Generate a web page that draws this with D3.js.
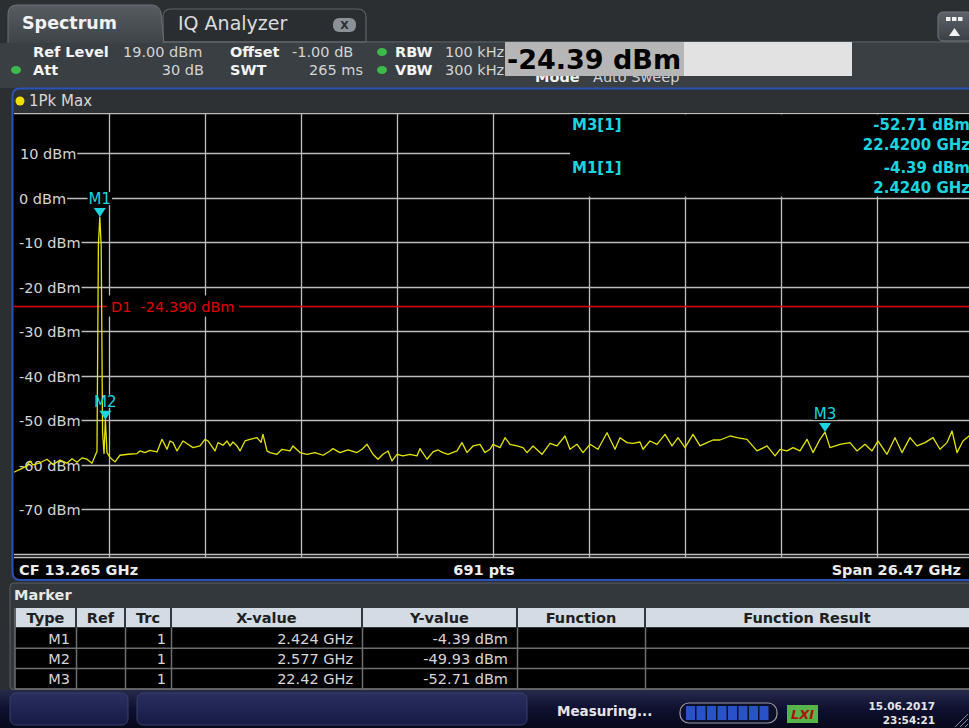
<!DOCTYPE html>
<html><head><meta charset="utf-8">
<script src="https://cdn.jsdelivr.net/npm/d3@7"></script>
<style>
html,body{margin:0;padding:0;background:#2b2f32;overflow:hidden;}
svg{display:block;font-family:"DejaVu Sans",Verdana,sans-serif;}
</style></head><body>
<svg id="c" width="969" height="728"></svg>
<script>
// ---------- data ----------
const startGHz = 0.03, stopGHz = 26.5;
const refLevel = 19, bottomLevel = -81;
const yTickValues = [10, 0, -10, -20, -30, -40, -50, -60, -70];
const yGridValues = [10, 0, -10, -20, -30, -40, -50, -60, -70, -80];
const displayLineLevel = -24.39;
const displayLineLabel = "D1  -24.390 dBm";
// trace: [frequency GHz, level dBm]
const trace = [
[0.03,-61.8],[0.223,-61.1],[0.416,-60.3],[0.499,-59.2],[0.581,-60.1],[0.774,-59.6],[0.967,-58.8],[1.133,-60.0],
[1.326,-59.0],[1.519,-59.7],[1.657,-58.7],[1.795,-59.5],[1.933,-58.5],[2.070,-58.8],[2.208,-59.7],[2.291,-58.1],
[2.346,-57.0],[2.385,-10.5],[2.424,-4.39],[2.462,-11.0],[2.50,-52.8],[2.54,-57.5],[2.577,-49.93],[2.622,-57.3],
[2.705,-58.4],[2.842,-59.4],[2.980,-57.91],[3.201,-57.69],[3.449,-57.54],[3.532,-56.94],[3.670,-57.31],[3.807,-56.8],
[4.001,-57.16],[4.138,-54.33],[4.276,-56.57],[4.359,-54.7],[4.442,-55.07],[4.552,-56.94],[4.717,-54.7],[4.855,-55.45],
[4.993,-56.19],[5.186,-55.82],[5.324,-54.33],[5.407,-54.7],[5.600,-56.94],[5.682,-55.07],[5.820,-55.67],[5.931,-54.7],
[6.013,-55.82],[6.096,-54.93],[6.206,-55.82],[6.289,-56.94],[6.427,-54.7],[6.565,-54.33],[6.758,-53.96],[6.868,-55.0],
[6.923,-53.2],[7.034,-56.94],[7.116,-57.31],[7.309,-57.69],[7.447,-56.57],[7.668,-56.94],[7.750,-55.82],[7.943,-57.31],
[8.136,-57.69],[8.357,-57.31],[8.578,-57.91],[8.771,-56.94],[8.853,-56.42],[9.046,-57.31],[9.267,-56.72],[9.515,-57.31],
[9.653,-56.57],[9.791,-55.45],[9.956,-57.69],[10.094,-58.81],[10.232,-57.69],[10.370,-56.94],[10.480,-59.18],[10.618,-57.69],
[10.783,-58.06],[10.976,-57.69],[11.169,-58.06],[11.252,-56.42],[11.445,-58.81],[11.611,-57.16],[11.748,-56.72],[11.886,-57.31],
[12.024,-57.69],[12.272,-56.94],[12.410,-55.07],[12.548,-57.31],[12.714,-55.82],[12.907,-55.45],[13.044,-57.31],[13.182,-56.57],
[13.265,-55.45],[13.458,-56.19],[13.596,-53.96],[13.734,-55.45],[13.927,-55.82],[14.092,-56.19],[14.203,-57.31],[14.368,-55.82],
[14.616,-57.69],[14.837,-55.22],[15.030,-55.82],[15.250,-53.58],[15.388,-56.57],[15.581,-55.45],[15.747,-57.31],[15.940,-55.45],
[16.160,-56.57],[16.408,-52.84],[16.629,-56.57],[16.767,-53.96],[16.960,-55.07],[17.125,-55.22],[17.318,-54.93],[17.401,-56.57],
[17.594,-54.7],[17.787,-55.45],[18.008,-53.21],[18.201,-55.82],[18.366,-53.96],[18.559,-56.19],[18.780,-53.21],[18.973,-55.82],
[19.166,-55.07],[19.331,-54.48],[19.524,-54.48],[19.800,-53.58],[19.993,-53.96],[20.268,-54.33],[20.544,-56.94],[20.820,-55.82],
[21.041,-58.06],[21.178,-56.57],[21.371,-56.94],[21.537,-56.19],[21.730,-56.94],[21.923,-54.33],[22.088,-57.31],[22.281,-54.33],
[22.42,-52.71],[22.557,-56.19],[22.833,-55.45],[23.108,-55.07],[23.301,-56.94],[23.522,-55.45],[23.715,-56.94],[23.880,-54.7],
[24.128,-57.69],[24.349,-53.96],[24.542,-57.31],[24.763,-53.96],[24.956,-55.82],[25.176,-55.07],[25.397,-53.96],[25.590,-56.57],
[25.783,-55.07],[25.921,-52.46],[26.059,-57.31],[26.224,-54.7],[26.390,-53.58],[26.50,-54.5]
];
const markerNames = ["M1", "M2", "M3"];
const markerFreqs = [2.424, 2.577, 22.42];
const markerLevels = [-4.39, -49.93, -52.71];
const tableColumns = ["Type", "Ref", "Trc", "X-value", "Y-value", "Function", "Function Result"];
const tableRows = [
  ["M1", "", "1", "2.424 GHz", "-4.39 dBm", "", ""],
  ["M2", "", "1", "2.577 GHz", "-49.93 dBm", "", ""],
  ["M3", "", "1", "22.42 GHz", "-52.71 dBm", "", ""]
];
const infoLines = [["M3[1]", "-52.71 dBm", "22.4200 GHz"], ["M1[1]", "-4.39 dBm", "2.4240 GHz"]];

// ---------- drawing ----------
const svg = d3.select("#c");
const defs = svg.append("defs");
function grad(id, stops, vertical = true) {
  const g = defs.append("linearGradient").attr("id", id)
    .attr("x1", 0).attr("y1", 0).attr("x2", vertical ? 0 : 1).attr("y2", vertical ? 1 : 0);
  stops.forEach((c, i) => g.append("stop").attr("offset", i / (stops.length - 1)).attr("stop-color", c));
}
grad("tabG", ["#565c61", "#3e4347"]);
grad("statusG", ["#262a4a", "#0e1030", "#07081a"]);
grad("btnG", ["#2a2f60", "#161a44"]);
grad("btnTop", ["#5c6268", "#3a4045"]);

// page background
svg.append("rect").attr("width", 969).attr("height", 728).attr("fill", "#2b2f32");

// tabs
svg.append("path").attr("d", "M163,42 L163,17 Q163,9 171,9 L357,9 Q366,9 366,17 L366,42 Z")
  .attr("fill", "#2a2e31").attr("stroke", "#5e6469").attr("stroke-width", 1.2);
svg.append("line").attr("x1", 160).attr("x2", 969).attr("y1", 42).attr("y2", 42).attr("stroke", "#6b7176").attr("stroke-width", 1.2);
svg.append("path").attr("d", "M8,44 L8,14 Q8,5 17,5 L152,5 Q159,5 161,13 L164,44 Z")
  .attr("fill", "url(#tabG)").attr("stroke", "#6b7176").attr("stroke-width", 1);
svg.append("text").attr("x", 22).attr("y", 29).attr("fill", "#f2f2f2").attr("font-size", 17.5).attr("font-weight", "bold").text("Spectrum");
svg.append("text").attr("x", 178).attr("y", 30).attr("fill", "#dcdcdc").attr("font-size", 19).text("IQ Analyzer");
svg.append("rect").attr("x", 333).attr("y", 18).attr("width", 23).attr("height", 14).attr("rx", 6).attr("fill", "#8b9196");
svg.append("text").attr("x", 344.5).attr("y", 29).attr("text-anchor", "middle").attr("fill", "#2a2e31").attr("font-size", 11).attr("font-weight", "bold").text("X");
// top-right button
svg.append("rect").attr("x", 938).attr("y", 12).attr("width", 34).attr("height", 29).attr("rx", 5).attr("fill", "url(#btnTop)").attr("stroke", "#73797e");
[946, 952, 958].forEach(xx => svg.append("rect").attr("x", xx).attr("y", 17).attr("width", 4.5).attr("height", 4).attr("fill", "#f0f0f0"));
svg.append("path").attr("d", "M949,36 L954.5,28 L960,36 Z").attr("fill", "#f0f0f0");

// info panel
svg.append("rect").attr("x", 0).attr("y", 43).attr("width", 969).attr("height", 45).attr("fill", "#3a3f43");
const info = svg.append("g").attr("font-size", 14.5);
function t(x, y, s, opt = {}) {
  return info.append("text").attr("x", x).attr("y", y).attr("fill", opt.fill || "#d4d4d4")
    .attr("font-weight", opt.bold ? "bold" : null).attr("text-anchor", opt.anchor || "start").text(s);
}
t(33, 57, "Ref Level", {bold: true, fill: "#f4f4f4"}); t(123, 57, "19.00 dBm");
t(230, 57, "Offset", {bold: true, fill: "#f4f4f4"}); t(292, 57, "-1.00 dB");
t(395, 57, "RBW", {bold: true, fill: "#f4f4f4"}); t(445, 57, "100 kHz");
t(33, 75, "Att", {bold: true, fill: "#f4f4f4"}); t(204, 75, "30 dB", {anchor: "end"});
t(230, 75, "SWT", {bold: true, fill: "#f4f4f4"}); t(363, 75, "265 ms", {anchor: "end"});
t(395, 75, "VBW", {bold: true, fill: "#f4f4f4"}); t(445, 75, "300 kHz");
t(535, 82, "Mode", {bold: true, fill: "#f4f4f4"}); t(593, 82, "Auto Sweep");
[[382, 52], [16, 70], [382, 70]].forEach(p => svg.append("ellipse").attr("cx", p[0]).attr("cy", p[1]).attr("rx", 5).attr("ry", 4).attr("fill", "#3dbb4a"));
// overlay value box
svg.append("rect").attr("x", 505).attr("y", 42).attr("width", 347).attr("height", 34).attr("fill", "#e2e2e2");
svg.append("rect").attr("x", 505).attr("y", 42).attr("width", 179).attr("height", 34).attr("fill", "#b6b6b6");
svg.append("text").attr("x", 507).attr("y", 69).attr("font-size", 27).attr("font-weight", "bold").attr("fill", "#000").text("-24.39 dBm");

// trace row
svg.append("rect").attr("x", 13).attr("y", 89).attr("width", 960).attr("height", 24).attr("fill", "#2d3134");
svg.append("circle").attr("cx", 20).attr("cy", 101).attr("r", 4.5).attr("fill", "#f0e000");
svg.append("text").attr("x", 29).attr("y", 106).attr("font-size", 15).attr("fill", "#d8d8d8").text("1Pk Max");

// plot
const x = d3.scaleLinear().domain([startGHz, stopGHz]).range([13, 973]);
const y = d3.scaleLinear().domain([bottomLevel, refLevel]).range([558, 113]);
svg.append("rect").attr("x", 13).attr("y", 113).attr("width", 960).attr("height", 445).attr("fill", "#000");
defs.append("clipPath").attr("id", "plotClip").append("rect").attr("x", 14).attr("y", 113).attr("width", 960).attr("height", 445);
const plot = svg.append("g").attr("clip-path", "url(#plotClip)");
const gridCol = "#bdbdbd";
const vGrid = d3.range(1, 10).map(i => startGHz + i * (stopGHz - startGHz) / 10);
plot.selectAll(".vg").data(vGrid).join("line")
  .attr("x1", d => Math.round(x(d)) + 0.5).attr("x2", d => Math.round(x(d)) + 0.5)
  .attr("y1", 113).attr("y2", 558).attr("stroke", gridCol).attr("stroke-width", 1.3);
plot.append("line").attr("x1", 13).attr("x2", 973).attr("y1", 113.5).attr("y2", 113.5).attr("stroke", gridCol).attr("stroke-width", 1.3);
// y axis labels and horizontal grid
const yLab = plot.append("g").attr("font-size", 14.5).attr("fill", "#d4d4d4");
yGridValues.forEach(v => {
  const yy = Math.round(y(v)) + 0.5;
  let startX = 14;
  if (yTickValues.includes(v)) {
    const tx = yLab.append("text").attr("x", v === 10 ? 20 : 19).attr("y", yy + 5).text(v + " dBm");
    startX = (v === 10 ? 20 : 19) + tx.node().getComputedTextLength() + 1;
  }
  plot.append("line").attr("x1", startX).attr("x2", 973).attr("y1", yy).attr("y2", yy).attr("stroke", gridCol).attr("stroke-width", 1.3);
});
plot.append("line").attr("x1", 13).attr("x2", 973).attr("y1", 557.5).attr("y2", 557.5).attr("stroke", gridCol).attr("stroke-width", 1.3);

// marker info box (covers grid)
plot.append("rect").attr("x", 570).attr("y", 114.5).attr("width", 404).attr("height", 82).attr("fill", "#000");
const infoG = plot.append("g").attr("font-size", 15).attr("font-weight", "bold").attr("fill", "#1ad4e0");
infoLines.forEach((l, i) => {
  const b = 129.5 + i * 43;
  infoG.append("text").attr("x", 572).attr("y", b).text(l[0]);
  infoG.append("text").attr("x", 970).attr("y", b).attr("text-anchor", "end").text(l[1]);
  infoG.append("text").attr("x", 970).attr("y", b + 20).attr("text-anchor", "end").text(l[2]);
});

// display line D1
const dY = Math.round(y(displayLineLevel)) + 0.5;
plot.append("line").attr("x1", 14).attr("x2", 973).attr("y1", dY).attr("y2", dY).attr("stroke", "#e00000").attr("stroke-width", 1.3);
plot.append("rect").attr("x", 107).attr("y", dY - 11).attr("width", 132).attr("height", 21).attr("fill", "#000");
plot.append("text").attr("x", 111).attr("y", dY + 5.5).attr("font-size", 14.5).attr("fill", "#e00000").attr("xml:space", "preserve").text(displayLineLabel);

// marker label backgrounds (below trace)
const mBg = plot.append("g");
// trace
const line = d3.line().x(d => x(d[0])).y(d => y(d[1]));
plot.append("path").datum(trace).attr("d", line).attr("fill", "none").attr("stroke", "#e4e400").attr("stroke-width", 1.3).attr("stroke-linejoin", "round");

// markers
const mG = plot.append("g");
markerNames.forEach((m, i) => {
  const mx = x(markerFreqs[i]), my = y(markerLevels[i]);
  const lab = mG.append("text").attr("x", mx).attr("y", my - 13).attr("text-anchor", "middle").attr("font-size", 15).attr("fill", "#1ad4e0").text(m);
  const w = lab.node().getComputedTextLength();
  mBg.append("rect").attr("x", mx - w / 2 - 1).attr("y", my - 25).attr("width", w + 2).attr("height", 13).attr("fill", "#000");
  mG.append("path").attr("d", `M${mx - 6},${my - 9} L${mx + 6},${my - 9} L${mx},${my} Z`).attr("fill", "#1ad4e0");
});

// bottom bar of diagram
svg.append("rect").attr("x", 13).attr("y", 559).attr("width", 960).attr("height", 20).attr("fill", "#000");
const bb = svg.append("g").attr("font-size", 14.5).attr("font-weight", "bold").attr("fill", "#ececec");
bb.append("text").attr("x", 19).attr("y", 575).text("CF 13.265 GHz");
bb.append("text").attr("x", 484).attr("y", 575).attr("text-anchor", "middle").text("691 pts");
bb.append("text").attr("x", 961).attr("y", 575).attr("text-anchor", "end").text("Span 26.47 GHz");
// blue frame
svg.append("path").attr("d", "M975,88.5 L20,88.5 Q12.5,88.5 12.5,96 L12.5,572 Q12.5,580 20,580 L975,580")
  .attr("fill", "none").attr("stroke", "#2b52b8").attr("stroke-width", 2);

// marker table panel
svg.append("rect").attr("x", 10).attr("y", 583).attr("width", 970).attr("height", 107).attr("rx", 4).attr("fill", "#33383c").attr("stroke", "#5a5f63");
svg.append("text").attr("x", 14).attr("y", 600).attr("font-size", 14.5).attr("font-weight", "bold").attr("fill", "#e8e8e8").text("Marker");
const colEdges = [15, 76, 125, 171, 362, 517, 645, 975];
const tbl = svg.append("g");
// header
tableColumns.forEach((c, i) => {
  tbl.append("rect").attr("x", colEdges[i] + 1).attr("y", 608).attr("width", colEdges[i + 1] - colEdges[i] - 2).attr("height", 19).attr("fill", "#d3dce4");
  tbl.append("text").attr("x", (colEdges[i] + colEdges[i + 1]) / 2 + (i === 6 ? -3 : 0)).attr("y", 623).attr("text-anchor", "middle")
    .attr("font-size", 14.5).attr("font-weight", "bold").attr("fill", "#202020").text(c);
});
tbl.append("rect").attr("x", 15).attr("y", 628).attr("width", 960).attr("height", 60).attr("fill", "#000");
tableRows.forEach((r, ri) => {
  const top = 628 + ri * 20.3;
  tbl.append("line").attr("x1", 15).attr("x2", 975).attr("y1", top + 20.3).attr("y2", top + 20.3).attr("stroke", "#6e6e6e").attr("stroke-width", 1.5);
  r.forEach((v, ci) => {
    if (!v) return;
    const rightPad = [6, 6, 5, 9, 9, 6, 6][ci];
    tbl.append("text").attr("x", colEdges[ci + 1] - rightPad).attr("y", top + 15.5).attr("text-anchor", "end")
      .attr("font-size", 14.5).attr("fill", "#d6d6d6").text(v);
  });
});
colEdges.slice(1, 7).forEach(e => tbl.append("line").attr("x1", e + 0.5).attr("x2", e + 0.5).attr("y1", 628).attr("y2", 689).attr("stroke", "#6e6e6e").attr("stroke-width", 1.5));
tbl.append("line").attr("x1", 15).attr("x2", 15).attr("y1", 608).attr("y2", 689).attr("stroke", "#6e6e6e").attr("stroke-width", 1.5);

// status bar
svg.append("rect").attr("x", 0).attr("y", 690).attr("width", 969).attr("height", 38).attr("fill", "url(#statusG)");
svg.append("rect").attr("x", 10).attr("y", 693).attr("width", 118).attr("height", 32).attr("rx", 6).attr("fill", "url(#btnG)").attr("stroke", "#3a3f6a");
svg.append("rect").attr("x", 137).attr("y", 693).attr("width", 390).attr("height", 32).attr("rx", 6).attr("fill", "url(#btnG)").attr("stroke", "#3a3f6a");
svg.append("text").attr("x", 557).attr("y", 716).attr("font-size", 13.5).attr("font-weight", "bold").attr("fill", "#e6e6e6").text("Measuring...");
svg.append("rect").attr("x", 680).attr("y", 703).attr("width", 97).attr("height", 20).attr("rx", 9).attr("fill", "#0c0f28").attr("stroke", "#9a9aa6").attr("stroke-width", 1.2);
d3.range(8).forEach(i => svg.append("rect").attr("x", 686 + i * 10.5).attr("y", 706).attr("width", 9).attr("height", 14).attr("fill", "#2a52c8"));
svg.append("rect").attr("x", 787).attr("y", 705).attr("width", 31).attr("height", 18).attr("fill", "#55b548");
svg.append("text").attr("x", 802.5).attr("y", 719).attr("text-anchor", "middle").attr("font-size", 13).attr("font-weight", "bold").attr("font-style", "italic").attr("fill", "#b01010").text("LXI");
svg.append("text").attr("x", 935).attr("y", 710).attr("text-anchor", "end").attr("font-size", 10.5).attr("font-weight", "bold").attr("fill", "#e6e6e6").text("15.06.2017");
svg.append("text").attr("x", 935).attr("y", 724).attr("text-anchor", "end").attr("font-size", 10.5).attr("font-weight", "bold").attr("fill", "#e6e6e6").text("23:54:21");
[0, 5, 10].forEach(o => svg.append("line").attr("x1", 955 + o).attr("y1", 727).attr("x2", 968).attr("y2", 714 + o).attr("stroke", "#8888a0").attr("stroke-width", 1));
</script>
</body></html>
